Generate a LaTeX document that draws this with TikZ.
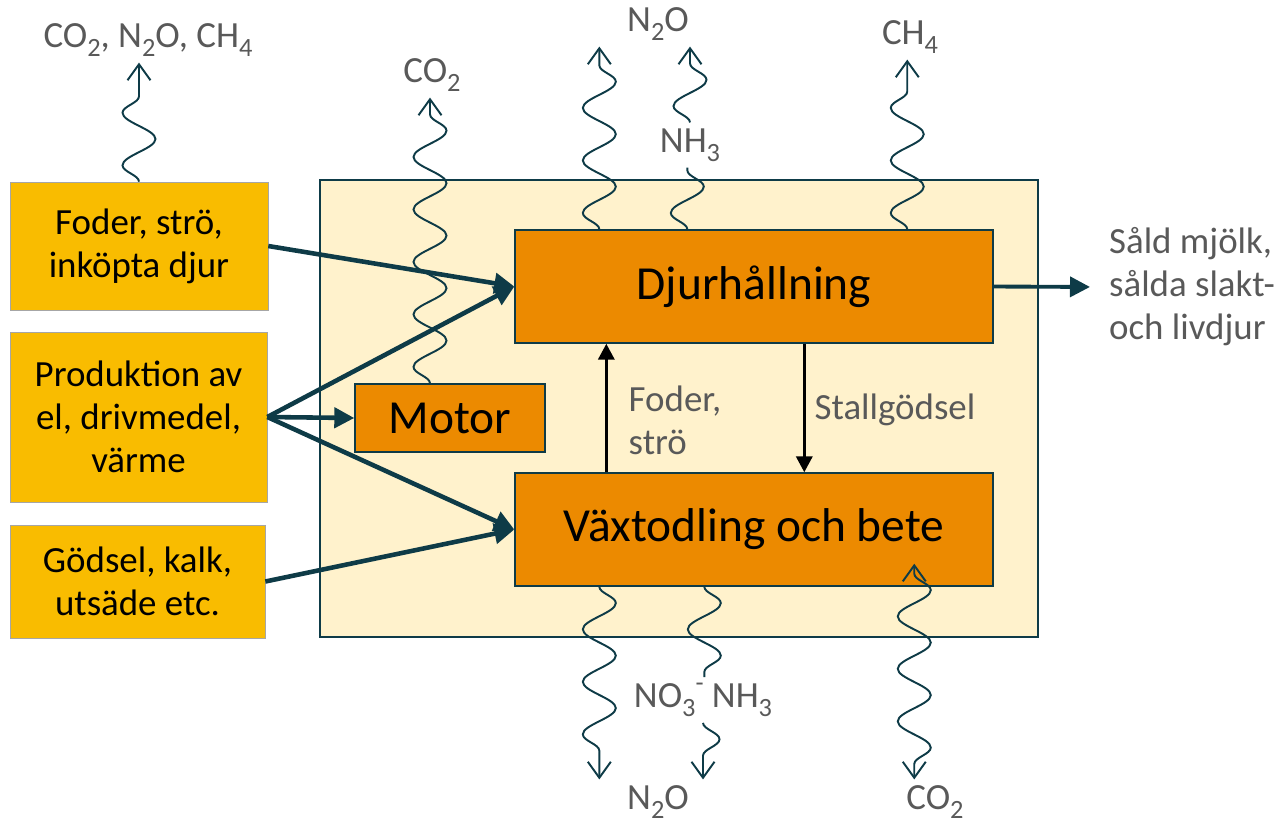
\documentclass[tikz,border=0pt]{standalone}
\usepackage{fontspec}
\setmainfont{Carlito}
\usepackage{xcolor}
\usetikzlibrary{arrows.meta, positioning, decorations.pathmorphing}

\definecolor{darkteal}{HTML}{0E3B47}
\definecolor{farmfill}{HTML}{FFF2CC}
\definecolor{orng}{HTML}{EC8A00}
\definecolor{ylw}{HTML}{F9BC00}
\definecolor{txtgray}{HTML}{595959}

\newcommand{\chsub}[1]{\raisebox{-0.5ex}{\fontsize{15}{15}\selectfont #1}}
\newcommand{\chsup}[1]{\raisebox{0.9ex}{\fontsize{15}{15}\selectfont #1}}

\begin{document}
\begin{tikzpicture}[x=0.02cm, y=-0.02cm,
  farm/.style={draw=darkteal, line width=1.1pt, fill=farmfill},
  box/.style={draw, align=center, inner sep=2pt},
  src/.style={box, draw=gray!70, fill=ylw, font=\fontsize{21}{24.5}\selectfont},
  unit/.style={box, draw=darkteal, line width=0.8pt, fill=orng, font=\fontsize{27}{32}\selectfont},
  lbl/.style={text=txtgray, align=left, font=\fontsize{21}{24.5}\selectfont},
  arr/.style={-{Triangle[length=4mm,width=4mm]}, line width=2.6pt, draw=darkteal},
  flow/.style={-{Triangle[length=3.2mm,width=3.2mm]}, line width=2pt},
  wave/.style={line width=1.1pt, draw=darkteal, decorate,
               decoration={snake, amplitude=0.33cm, segment length=1.05cm}},
  gas/.style={wave, -{Straight Barb[length=3.2mm,width=4.6mm]},
              decoration={snake, amplitude=0.33cm, segment length=1.05cm, post length=2mm}}]

  \useasboundingbox (0,0) rectangle (1281,823);

  % farm boundary with the two inner units and the motor
  \node[farm, minimum width=14.36cm, minimum height=9.14cm] (farm) at (679,408.5) {};
  \node[unit, minimum width=9.56cm, minimum height=2.26cm] (djur) at (754,286.5) {Djurhållning};
  \node[unit, minimum width=9.56cm, minimum height=2.26cm] (vaxt) at (754,529.5) {Växtodling och bete};
  \node[unit, minimum width=3.8cm, minimum height=1.36cm] (motor) at (450,418) {Motor};

  % purchased inputs (left column)
  \node[src, minimum width=5.16cm, minimum height=2.56cm] (feed) at (139,246) {Foder, strö,\\inköpta djur};
  \node[src, minimum width=5.14cm, minimum height=3.4cm] (energy) at (138.5,417) {Produktion av\\el, drivmedel,\\värme};
  \node[src, minimum width=5.1cm, minimum height=2.26cm] (fert) at (137.5,581.5) {Gödsel, kalk,\\utsäde etc.};

  % text labels
  \node[lbl] (sold) at (1192,287) {Såld mjölk,\\sålda slakt-\\och livdjur};
  \node[lbl] (fodlbl) at (675,420) {Foder,\\strö};
  \node[lbl] (stlbl) at (895,410) {Stallgödsel};
  \node[lbl] (ghg) at (148,40) {CO\chsub{2}, N\chsub{2}O, CH\chsub{4}};
  \node[lbl] (co2m) at (432,75) {CO\chsub{2}};
  \node[lbl] (n2otop) at (658,24) {N\chsub{2}O};
  \node[lbl] (nh3top) at (690,145) {NH\chsub{3}};
  \node[lbl] (ch4) at (910,37) {CH\chsub{4}};
  \node[lbl] (no3) at (703,700) {NO\chsub{3}\chsup{-} NH\chsub{3}};
  \node[lbl] (n2obot) at (658,802) {N\chsub{2}O};
  \node[lbl] (co2bot) at (935,802) {CO\chsub{2}};

  % emission points on the unit borders
  \coordinate (n2oa) at ([xshift=1.7cm]djur.north west);
  \coordinate (nh3a) at ([xshift=3.46cm]djur.north west);
  \coordinate (ch4a) at ([xshift=7.86cm]djur.north west);
  \coordinate (co2a) at ([xshift=-0.4cm]motor.north);
  \coordinate (n2ob) at ([xshift=1.7cm]vaxt.south west);
  \coordinate (no3a) at ([xshift=3.8cm]vaxt.south west);
  \coordinate (co2b) at ([xshift=8cm, yshift=0.46cm]vaxt.south west);

  % gas flows
  \draw[gas] (feed.north) -- (feed.north |- ghg.south);
  \draw[gas] (co2a) -- (co2a |- co2m.south);
  \draw[gas] (n2oa) -- (n2oa |- n2otop.south);
  \draw[wave] (nh3a) -- (nh3a |- nh3top.south);
  \draw[gas] (nh3top.north) -- (nh3top.north |- n2otop.south);
  \draw[gas] (ch4a) -- (ch4a |- ch4.south);
  \draw[gas] (n2ob) -- (n2ob |- n2obot.north);
  \draw[wave] (no3a) -- (no3a |- no3.north);
  \draw[gas] (no3.south) -- (no3.south |- n2obot.north);
  \draw[gas, {Straight Barb[length=3.2mm,width=4.6mm]}-{Straight Barb[length=3.2mm,width=4.6mm]},
        decoration={snake, amplitude=0.33cm, segment length=1.05cm, pre length=2mm, post length=2mm}]
        (co2b) -- (co2b |- co2bot.north);

  % material flows
  \draw[arr] (feed.east) -- (djur.west);
  \draw[arr] (energy.east) -- (djur.west);
  \draw[arr] (energy.east) -- (motor.west);
  \draw[arr] (energy.east) -- (vaxt.west);
  \draw[arr] (fert.east) -- (vaxt.west);
  \draw[arr, line width=2.2pt, shorten >=0.26cm] (djur.east) -- (sold.west);
  \draw[flow] ([xshift=1.84cm]vaxt.north west) -- ([xshift=1.84cm]djur.south west);
  \draw[flow] ([xshift=5.8cm]djur.south west) -- ([xshift=5.8cm]vaxt.north west);
\end{tikzpicture}
\end{document}
